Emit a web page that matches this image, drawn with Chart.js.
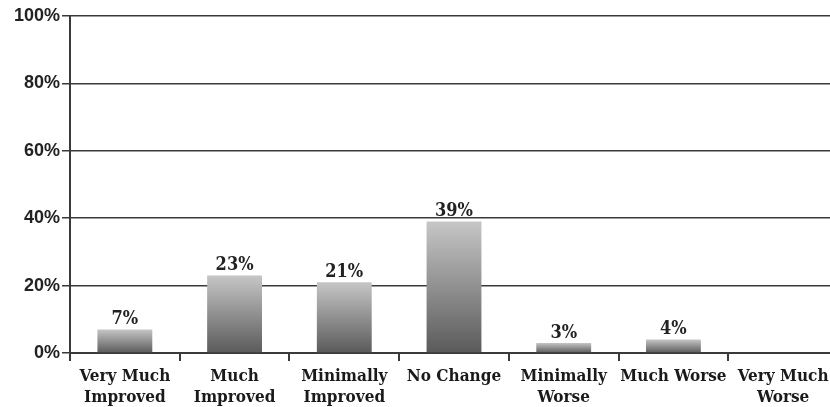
<!DOCTYPE html>
<html>
<head>
<meta charset="utf-8">
<script src="https://cdn.jsdelivr.net/npm/chart.js@4"></script>
<style>
    html, body { margin: 0; padding: 0; background: #fff; overflow: hidden; }
    #wrap { width: 840px; height: 407px; }
</style>
</head>
<body>
<div id="wrap"><canvas id="chart" width="840" height="407"></canvas></div>
<script>
const categories = [
    ['Very Much', 'Improved'],
    ['Much', 'Improved'],
    ['Minimally', 'Improved'],
    'No Change',
    ['Minimally', 'Worse'],
    'Much Worse',
    ['Very Much', 'Worse']
];
const percentValues = [7, 23, 21, 39, 3, 4, 0];
const yTicks = [0, 20, 40, 60, 80, 100];

const axisColor = '#3a3a3a';
const serifFont = '"DejaVu Serif Condensed", "DejaVu Serif", serif';

// draws the "23%" labels above each bar
const barValueLabels = {
    id: 'barValueLabels',
    afterDatasetsDraw(chart) {
        const { ctx } = chart;
        const meta = chart.getDatasetMeta(0);
        ctx.save();
        ctx.font = 'bold 18px ' + serifFont;
        ctx.fillStyle = '#222';
        ctx.textAlign = 'center';
        ctx.textBaseline = 'bottom';
        meta.data.forEach((bar, i) => {
            const v = percentValues[i];
            if (!v) return;
            ctx.fillText(v + '%', bar.x, bar.y - 1);
        });
        ctx.restore();
    }
};

function barGradient(c) {
    const chart = c.chart;
    const { ctx, chartArea, scales } = chart;
    if (!chartArea || c.type !== 'data') return '#888';
    const top = scales.y.getPixelForValue(c.raw);
    const base = scales.y.getPixelForValue(0);
    if (base - top < 1) return '#888';
    const g = ctx.createLinearGradient(0, top, 0, base);
    g.addColorStop(0, '#c6c6c6');
    g.addColorStop(1, '#5a5a5a');
    return g;
}

new Chart(document.getElementById('chart'), {
    type: 'bar',
    data: {
        labels: categories,
        datasets: [{
            data: percentValues,
            backgroundColor: barGradient,
            borderWidth: 0,
            barPercentage: 0.5,
            categoryPercentage: 1
        }]
    },
    options: {
        responsive: false,
        animation: false,
        layout: { padding: { top: 16, right: 2, left: 0, bottom: 0 } },
        plugins: {
            legend: { display: false },
            tooltip: { enabled: false }
        },
        scales: {
            x: {
                afterFit: (scale) => { scale.height = 54; },
                border: { color: axisColor, width: 2 },
                grid: {
                    offset: true,
                    drawOnChartArea: false,
                    drawTicks: true,
                    tickLength: 8,
                    color: axisColor,
                    lineWidth: 2
                },
                ticks: {
                    color: '#1a1a1a',
                    padding: 5,
                    maxRotation: 0,
                    autoSkip: false,
                    font: { family: serifFont, size: 17, weight: 'bold', lineHeight: 1.25 }
                }
            },
            y: {
                min: 0,
                max: 100,
                afterFit: (scale) => { scale.width = 70; },
                afterBuildTicks: (scale) => { scale.ticks = yTicks.map(v => ({ value: v })); },
                border: { color: axisColor, width: 2 },
                grid: {
                    color: axisColor,
                    lineWidth: 1.5,
                    tickLength: 8
                },
                ticks: {
                    color: '#222',
                    padding: 2,
                    callback: (v) => v + '%',
                    font: { family: '"Liberation Sans", sans-serif', size: 18, weight: 'bold' }
                }
            }
        }
    },
    plugins: [barValueLabels]
});
</script>
</body>
</html>
